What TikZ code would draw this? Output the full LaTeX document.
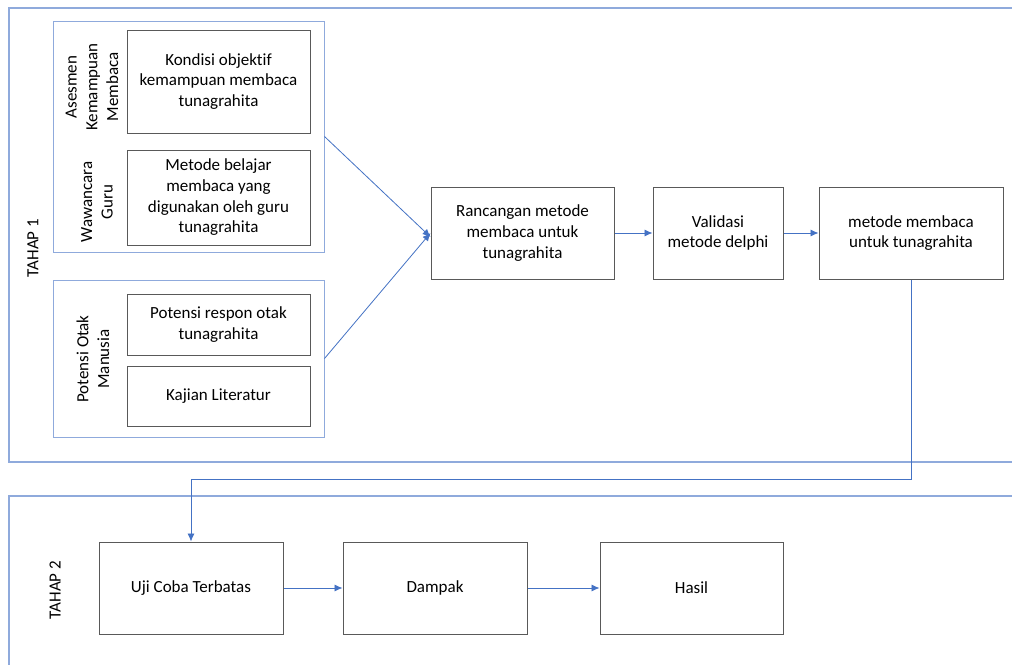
\documentclass[tikz,border=0pt]{standalone}
\usepackage{fontspec}
\setmainfont{Carlito}[Ligatures={NoCommon}]
\usetikzlibrary{arrows.meta}
\definecolor{frameblue}{HTML}{8FAADC}
\definecolor{arrblue}{HTML}{4472C4}
\definecolor{boxgray}{HTML}{595959}
\tikzset{
  every node/.style={font=\fontsize{17}{20.7}\selectfont, inner sep=0pt, align=center},
  box/.style={draw=boxgray, line width=1pt},
  grp/.style={draw=frameblue, line width=1pt},
  frameline/.style={draw=frameblue, line width=1.2pt},
  arr/.style={draw=arrblue, line width=0.8pt, -{Latex[length=8pt,width=7pt]}},
  vlabel/.style={rotate=90}
}
\begin{document}
\begin{tikzpicture}[x=1pt,y=-1pt]
\clip (0,0) rectangle (1012,664);
\fill[white] (0,0) rectangle (1012,664);
% stage frames
\draw[frameline] (1030,8) -- (9,8) -- (9,462) -- (1030,462);
\draw[frameline] (1030,496) -- (9,496) -- (9,680);
\node[vlabel] (t1) at (33,248) {TAHAP 1};
\node[vlabel] (t2) at (55,590) {TAHAP 2};
% groups
\node[grp, minimum width=271pt, minimum height=231pt] (g1) at (188.5,136.5) {};
\node[grp, minimum width=271pt, minimum height=157pt] (g2) at (188.5,358.5) {};
\node[vlabel] (l1) at (92,87) {Asesmen\\Kemampuan\\Membaca};
\node[vlabel] (l2) at (97,202) {Wawancara\\Guru};
\node[vlabel] (l3) at (93,359) {Potensi Otak\\Manusia};
% inner boxes
\node[box, minimum width=183pt, minimum height=103pt] (kon) at (218.5,81.5) {Kondisi objektif\\kemampuan membaca\\tunagrahita};
\node[box, minimum width=183pt, minimum height=95pt] (met) at (218.5,197.5) {Metode belajar\\membaca yang\\digunakan oleh guru\\tunagrahita};
\node[box, minimum width=183pt, minimum height=61pt] (pot) at (218.5,324.5) {Potensi respon otak\\tunagrahita};
\node[box, minimum width=183pt, minimum height=60pt] (kaj) at (218.5,396) {Kajian Literatur};
% main flow
\node[box, minimum width=183pt, minimum height=92pt] (ran) at (522.5,233) {Rancangan metode\\membaca untuk\\tunagrahita};
\node[box, minimum width=130pt, minimum height=92pt] (val) at (718,233) {Validasi\\metode delphi};
\node[box, minimum width=184pt, minimum height=92pt] (mm) at (911,233) {metode membaca\\untuk tunagrahita};
% stage 2
\node[box, minimum width=184pt, minimum height=92pt] (uji) at (191,588) {Uji Coba Terbatas};
\node[box, minimum width=184pt, minimum height=92pt] (dam) at (435,588) {Dampak};
\node[box, minimum width=183pt, minimum height=92pt] (has) at (691.5,588) {Hasil};
% connectors
\coordinate (ranin) at ([yshift=-4pt]ran.west);
\draw[arr] (g1.east) -- (ranin);
\draw[arr] (g2.east) -- (ran.west);
\draw[arr] (ran) -- (val);
\draw[arr] (val) -- (mm);
\coordinate (turn) at (191,479);
\draw[arr] (mm.south) |- (turn) -- (uji.north);
\draw[arr] (uji) -- (dam);
\draw[arr] (dam) -- (has);
\end{tikzpicture}
\end{document}
